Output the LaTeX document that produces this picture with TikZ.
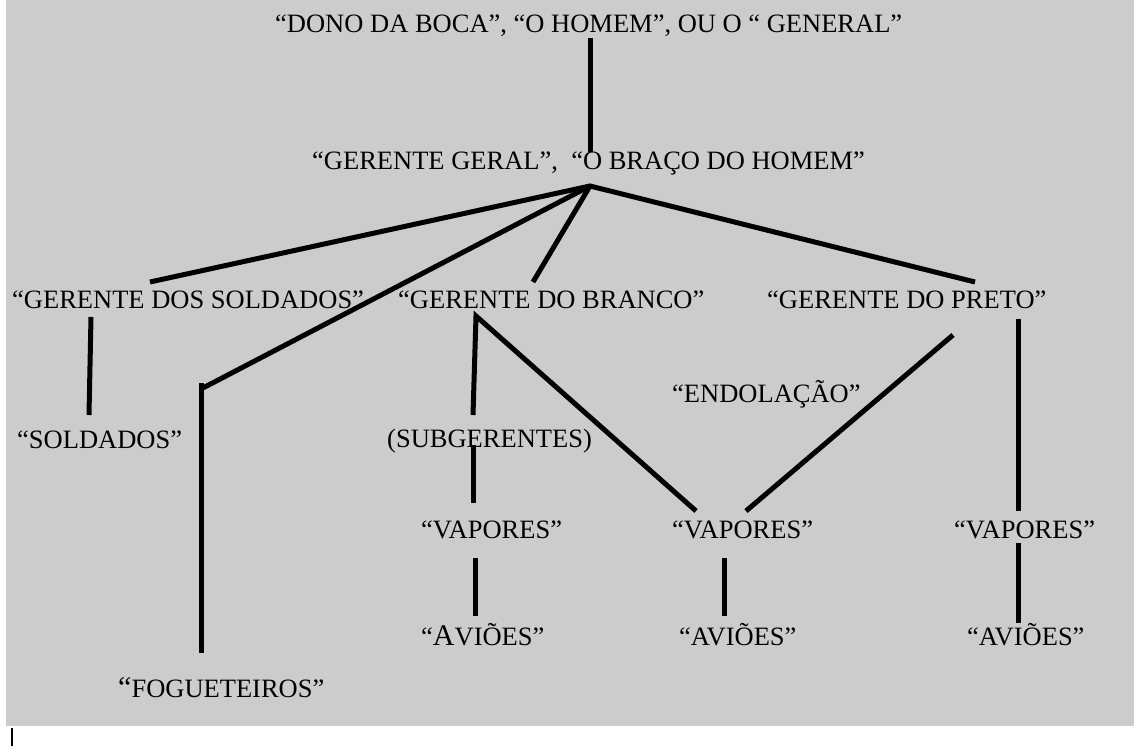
\documentclass[tikz,border=0pt]{standalone}
\usepackage{fontspec}
\setmainfont{Liberation Serif}
\definecolor{bggray}{HTML}{CCCCCC}
\tikzset{
  txt/.style={anchor=base west, inner sep=0pt, font=\fontsize{26.5}{30}\selectfont},
  link/.style={line width=5pt, line cap=butt},
}
\begin{document}
\begin{tikzpicture}[x=1pt,y=-1pt]
\useasboundingbox (0,0) rectangle (1134,746);
\fill[bggray] (6,0) rectangle (1134,726);
\draw[line width=1.6pt] (12,728) -- (12,746);

% texts
\node[txt] (top) at (275,33) {“DONO DA BOCA”, “O HOMEM”, OU O “ GENERAL”};
\node[txt] (gg) at (312,170) {“GERENTE GERAL”,\ \ “O BRAÇO DO HOMEM”};
\node[txt] (gs) at (12,308) {“GERENTE DOS SOLDADOS”};
\node[txt] (gb) at (398,308) {“GERENTE DO BRANCO”};
\node[txt] (gp) at (767,308) {“GERENTE DO PRETO”};
\node[txt] (endo) at (672,402) {“ENDOLAÇÃO”};
\node[txt] (sold) at (17,448) {“SOLDADOS”};
\node[txt] (sub) at (387,447) {(SUBGERENTES)};
\node[txt] (v1) at (421,538) {“VAPORES”};
\node[txt] (v2) at (672,538) {“VAPORES”};
\node[txt] (v3) at (954,538) {“VAPORES”};
\node[txt] (a1) at (421,645) {“{\fontsize{30}{30}\selectfont A}VIÕES”};
\node[txt] (a2) at (679,645) {“AVIÕES”};
\node[txt] (a3) at (967,645) {“AVIÕES”};
\node[txt] (fog) at (118,697) {{\fontsize{30}{30}\selectfont “}FOGUETEIROS”};

% connector end points
\coordinate (topS) at (590,38);
\coordinate (ggN) at (590,152);
\coordinate (hub) at (590,186);
\coordinate (gsE) at (150,282);
\coordinate (gbN) at (533,282);
\coordinate (gpN) at (975,282);
\coordinate (fogK) at (201,389);
\coordinate (fogT) at (201,383);
\coordinate (fogN) at (201,653);
\coordinate (gsS) at (91,317);
\coordinate (soldN) at (89,415);
\coordinate (gbS) at (476,316);
\coordinate (subN) at (473,415);
\coordinate (subS) at (473,445);
\coordinate (v1N) at (473,503);
\coordinate (v1S) at (475,558);
\coordinate (a1N) at (475,616);
\coordinate (v2NW) at (696,511);
\coordinate (v2NE) at (746,511);
\coordinate (gpSW) at (953,335);
\coordinate (v2S) at (724,558);
\coordinate (a2N) at (724,616);
\coordinate (gpS) at (1018,319);
\coordinate (v3N) at (1018,511);
\coordinate (v3S) at (1018,543);
\coordinate (a3N) at (1018,623);

% connectors
\draw[link] (topS) -- (ggN);
\draw[link, line join=miter] (gsE) -- (hub) -- (gpN);
\draw[link] (hub) -- (gbN);
\draw[link] (hub) -- (fogK);
\draw[link] (fogT) -- (fogN);
\draw[link] (gsS) -- (soldN);
\draw[link, line join=miter] (subN) -- (gbS) -- (v2NW);
\draw[link] (subS) -- (v1N);
\draw[link] (v1S) -- (a1N);
\draw[link] (gpSW) -- (v2NE);
\draw[link] (v2S) -- (a2N);
\draw[link] (gpS) -- (v3N);
\draw[link] (v3S) -- (a3N);
\end{tikzpicture}
\end{document}
